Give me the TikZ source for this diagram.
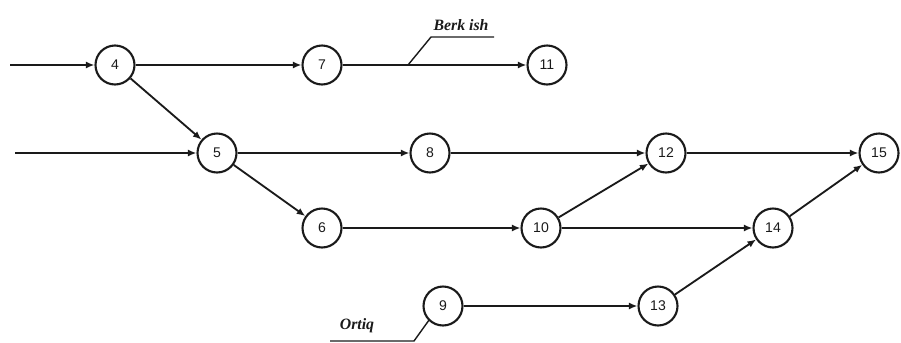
\documentclass[tikz,border=0pt]{standalone}
\usepackage{fontspec}
\setsansfont{Liberation Sans}
\setmainfont{Liberation Serif}
\usetikzlibrary{arrows.meta,positioning,calc}
\definecolor{Ink}{HTML}{1A1A1A}

\tikzset{
  event/.style={circle,draw=Ink,line width=1.2pt,minimum size=0.78cm,inner sep=0pt,
    font=\sffamily\footnotesize,text=Ink},
  work/.style={-{Latex[length=1.7mm,width=1.4mm]},Ink,line width=1.05pt},
  leader/.style={Ink,line width=0.8pt},
  tag/.style={font=\bfseries\itshape\small,text=Ink,inner sep=1pt}
}

\begin{document}
\begin{tikzpicture}[x=0.02cm,y=-0.02cm]
\useasboundingbox (0,0) rectangle (901,342);
\node[event] (n4) at (115,65) {4};
\node[event] (n7) at (322,65) {7};
\node[event] (n11) at (547,65) {11};
\node[event] (n5) at (217,153) {5};
\node[event] (n8) at (430,153) {8};
\node[event] (n12) at (666,153) {12};
\node[event] (n15) at (879,153) {15};
\node[event] (n6) at (322,228) {6};
\node[event] (n10) at (541,228) {10};
\node[event] (n14) at (773,228) {14};
\node[event] (n9) at (443,306) {9};
\node[event] (n13) at (658,306) {13};
\coordinate (in4) at (10,65);
\coordinate (in5) at (15,153);
\draw[work] (in4) -- (n4);
\draw[work] (in5) -- (n5);
\draw[work] (n4) -- (n7);
\draw[work] (n7) -- (n11);
\draw[work] (n4) -- (n5);
\draw[work] (n5) -- (n8);
\draw[work] (n8) -- (n12);
\draw[work] (n12) -- (n15);
\draw[work] (n5) -- (n6);
\draw[work] (n6) -- (n10);
\draw[work] (n10) -- (n12);
\draw[work] (n10) -- (n14);
\draw[work] (n14) -- (n15);
\draw[work] (n9) -- (n13);
\draw[work] (n13) -- (n14);
% labels on leaders
\coordinate (berk) at (408,65);
\draw[leader] (berk) -- (431,37) -- (494,37);
\node[tag,anchor=south] (berklbl) at (461,33) {Berk ish};
\coordinate (ortiq) at ($(n9)+(-135:0.39cm)$);
\draw[leader] (ortiq) -- (414,341) -- (330,341);
\node[tag,anchor=south] (ortiqlbl) at (357,335) {Ortiq};
\end{tikzpicture}
\end{document}
